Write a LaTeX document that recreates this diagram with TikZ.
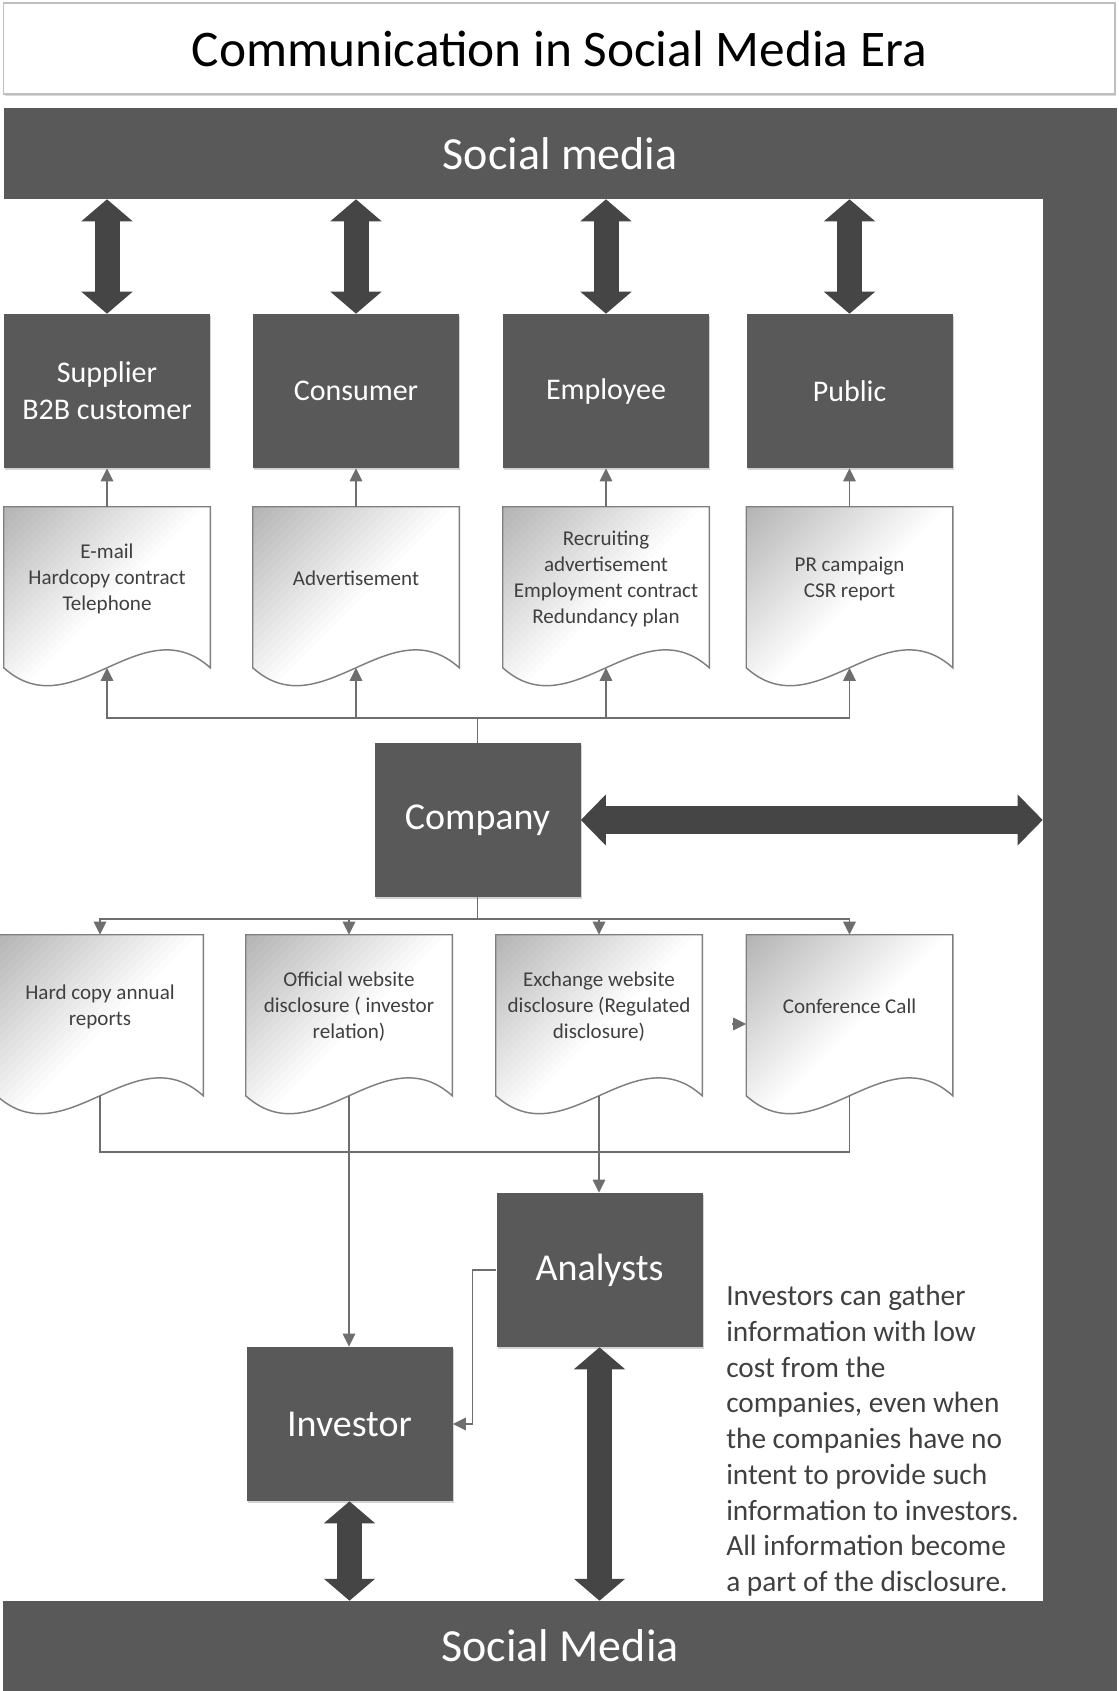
\documentclass[tikz,border=0pt]{standalone}
\usepackage{fontspec}
\setmainfont{Carlito}
\usetikzlibrary{arrows.meta,calc,shadows,backgrounds}
\definecolor{boxg}{HTML}{595959}
\definecolor{arrg}{HTML}{454545}
\definecolor{lineg}{HTML}{6E6E6E}
\definecolor{docln}{HTML}{7F7F7F}
\definecolor{docink}{HTML}{404040}
\definecolor{frameg}{HTML}{BFBFBF}
\tikzset{
  dark/.style={fill=boxg,minimum width=154.5pt,minimum height=115.5pt,inner sep=2pt,align=center,text=white,font=\fontsize{22.5}{27.5}\selectfont,drop shadow={shadow xshift=1pt,shadow yshift=-1.5pt,opacity=0.35}},
  bigdark/.style={dark,font=\fontsize{28.5}{34}\selectfont},
  docu/.style={minimum width=154.5pt,minimum height=107.25pt,inner sep=2pt,align=center,text=docink,font=\fontsize{15.8}{19.5}\selectfont},
  wash/.style={black,opacity=0.011},
  docline/.style={draw=docln,line width=1.1pt},
  bar/.style={fill=boxg,inner sep=0,text=white,font=\fontsize{34.5}{40}\selectfont},
  link/.style={draw=lineg,line width=1.1pt,-{Triangle[length=9.75pt,width=9.4pt]}},
  bus/.style={draw=lineg,line width=1.1pt},
  dbl/.style={draw=arrg,line width=18.75pt,{Triangle[length=16.5pt,width=37.5pt]}-{Triangle[length=16.5pt,width=37.5pt]}},
  note/.style={align=left,inner sep=0,text=docink,font=\fontsize{22}{26.8}\selectfont}
}
% document outline round a docu node
\newcommand{\docpath}[1]{(#1.north west) -- (#1.north east) -- ($(#1.south east)+(0,17.5)$)
    .. controls +(-68.7,-62) and +(68.7,62) .. ($(#1.south west)+(0,17.5)$) -- cycle}
% white page, grey wash from the top left corner, then the outline
\newcommand{\docback}[1]{%
  \fill[white] \docpath{#1};
  \begin{scope}
    \clip \docpath{#1};
    \foreach \s in {8,16,...,200} \fill[wash] (#1.north west) -- ++(\s,0) -- ++(-\s,\s) -- cycle;
  \end{scope}
  \path[docline] \docpath{#1};}

\begin{document}
\begin{tikzpicture}[x=0.75pt,y=-0.75pt]
\useasboundingbox (0,0) rectangle (1119,1691);
% ================= frame =================
\node[draw=frameg,line width=1pt,fill=white,minimum width=833.6pt,minimum height=68.25pt,inner sep=0,font=\fontsize{38.5}{44}\selectfont,drop shadow={shadow xshift=1pt,shadow yshift=-1.5pt,opacity=0.3}] (title) at (559.25,48.5) {Communication in Social Media Era};
\node[bar,minimum width=835pt,minimum height=68.25pt] (topbar) at (560.25,153.5) {Social media};
\node[bar,minimum width=55.5pt,minimum height=1187.25pt] (rbar) at (1080,899.5) {};
\node[bar,minimum width=835.5pt,minimum height=67.5pt] (botbar) at (560,1646) {Social Media};
% ================= stakeholders =================
\node[dark] (sup) at (107,391) {Supplier\\B2B customer};
\node[dark] (con) at (356,391) {Consumer};
\node[dark] (emp) at (606,391) {Employee};
\node[dark] (pub) at (849.5,391) {Public};
\node[docu] (dsup) at (107,578.5) {E-mail\\Hardcopy contract\\Telephone};
\node[docu] (dcon) at (356,578.5) {Advertisement};
\node[docu] (demp) at (606,578.5) {Recruiting\\advertisement\\Employment contract\\Redundancy plan};
\node[docu] (dpub) at (849.5,578.5) {PR campaign\\CSR report};
\node[bigdark] (comp) at (477.5,820) {Company};
% ================= disclosure =================
\node[docu] (dhard) at (100,1006.5) {Hard copy annual\\reports};
\node[docu] (doff) at (349,1006.5) {Official website\\disclosure ( investor\\relation)};
\node[docu] (dexc) at (599,1006.5) {Exchange website\\disclosure (Regulated\\disclosure)};
\node[docu] (dconf) at (849.5,1006.5) {Conference Call};
\node[bigdark] (ana) at (599.5,1270) {Analysts};
\node[bigdark] (inv) at (349.5,1424) {Investor};
\node[note,anchor=north west] (txt) at (726,1285) {Investors can gather\\information with low\\cost from the\\companies, even when\\the companies have no\\intent to provide such\\information to investors.\\All information become\\a part of the disclosure.};
\begin{scope}[on background layer]
\foreach \d in {dsup,dcon,demp,dpub,dhard,doff,dexc,dconf} {\docback{\d}}
\end{scope}
% ================= links =================
\foreach \b in {sup,con,emp,pub} {\draw[dbl] (topbar.south -| \b) -- (\b); \draw[link] (d\b) -- (\b);}
\coordinate (up) at (477.5,718);
\coordinate (dn) at (477.5,919);
\coordinate (lowbus) at (477.5,1152);
\draw[bus] (comp) -- (up);
\foreach \d in {dsup,dcon,demp,dpub} \draw[link] (up) -| ($(\d.south)+(0,17.5)$);
\draw[bus] (comp) -- (dn);
\foreach \d in {dhard,doff,dexc,dconf} \draw[link] (dn) -| (\d.north);
\draw[bus] ($(dhard.south)+(0,17.5)$) |- (lowbus) -| ($(dconf.south)+(0,17.5)$);
\draw[link] ($(doff.south)+(0,17.5)$) -- (doff.south |- inv.north);
\draw[link] ($(dexc.south)+(0,17.5)$) -- (dexc.south |- ana.north);
\draw[link] (ana.west) -- ++(-24,0) |- (inv.east);
\draw[link] ($(dconf.west)+(-14,17.5)$) -- ($(dconf.west)+(0,17.5)$);
\draw[dbl,line width=21pt,{Triangle[length=18.75pt,width=37pt]}-{Triangle[length=18.75pt,width=37pt]}] (comp) -- (comp -| rbar.west);
\draw[dbl] (inv) -- (inv |- botbar.north);
\draw[dbl] (ana) -- (ana |- botbar.north);
\end{tikzpicture}
\end{document}
